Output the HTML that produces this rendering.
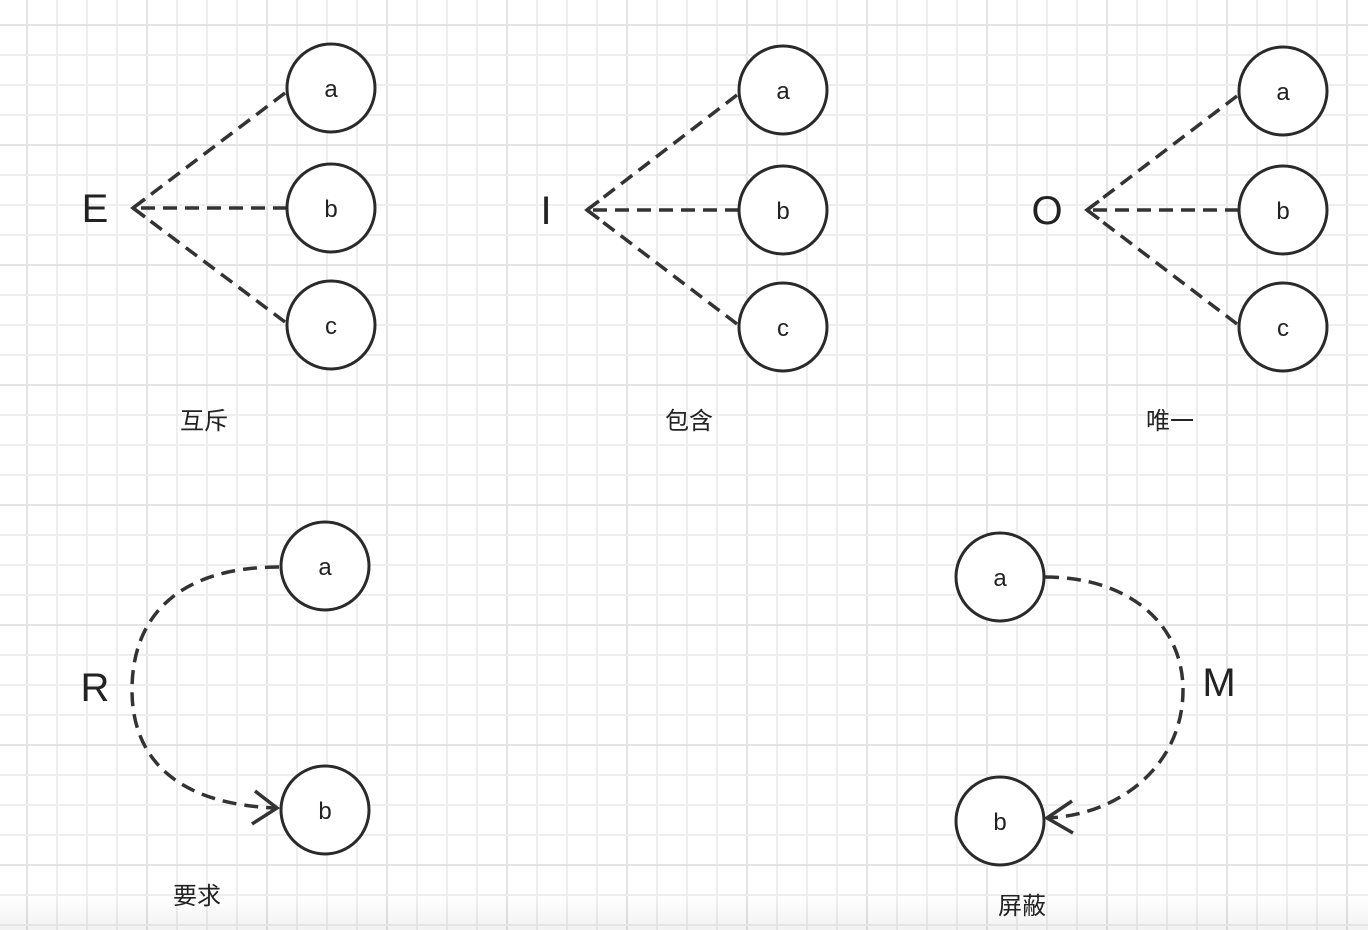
<!DOCTYPE html>
<html><head><meta charset="utf-8">
<style>
html,body{margin:0;padding:0;background:#fff;}
svg{display:block;}
.t{font-family:"Liberation Sans","Noto Sans CJK SC",sans-serif;fill:#222;}
.c{fill:#fff;stroke:#2a2a2a;stroke-width:3;}
.d{fill:none;stroke:#333;stroke-width:3.5;stroke-dasharray:14 8;}
.ar{fill:none;stroke:#333;stroke-width:3.5;}
</style></head>
<body>
<svg id="s" width="1368" height="930" viewBox="0 0 1368 930">
<defs>
<linearGradient id="fade" x1="0" y1="0" x2="0" y2="1">
<stop offset="0" stop-color="#000" stop-opacity="0"/>
<stop offset="1" stop-color="#000" stop-opacity="0.05"/>
</linearGradient>
</defs>
<rect width="1368" height="930" fill="#fff"/>
<g id="grid"></g>
<rect y="895" width="1368" height="35" fill="url(#fade)"/>

<g>
<path class="d" d="M285 93L133 208M287 208H133M285 322L133 208"/>
<path class="ar" d="M145 199L133 208L145 217"/>
<circle class="c" cx="331" cy="88" r="44"/>
<circle class="c" cx="331" cy="208" r="44"/>
<circle class="c" cx="331" cy="325" r="44"/>
<text class="t" x="331" y="97" font-size="24" text-anchor="middle">a</text>
<text class="t" x="331" y="217" font-size="24" text-anchor="middle">b</text>
<text class="t" x="331" y="334" font-size="24" text-anchor="middle">c</text>
<text class="t" x="95" y="222" font-size="40" text-anchor="middle">E</text>
<text class="t" x="204" y="429" font-size="24" text-anchor="middle">互斥</text>
</g>

<g>
<path class="d" d="M737 95L587 210M739 210H587M737 324L587 210"/>
<path class="ar" d="M599 201L587 210L599 219"/>
<circle class="c" cx="783" cy="90" r="44"/>
<circle class="c" cx="783" cy="210" r="44"/>
<circle class="c" cx="783" cy="327" r="44"/>
<text class="t" x="783" y="99" font-size="24" text-anchor="middle">a</text>
<text class="t" x="783" y="219" font-size="24" text-anchor="middle">b</text>
<text class="t" x="783" y="336" font-size="24" text-anchor="middle">c</text>
<text class="t" x="546" y="224" font-size="40" text-anchor="middle">I</text>
<text class="t" x="689" y="429" font-size="24" text-anchor="middle">包含</text>
</g>

<g>
<path class="d" d="M1237 96L1087 210M1239 210H1087M1237 324L1087 210"/>
<path class="ar" d="M1099 201L1087 210L1099 219"/>
<circle class="c" cx="1283" cy="91" r="44"/>
<circle class="c" cx="1283" cy="210" r="44"/>
<circle class="c" cx="1283" cy="327" r="44"/>
<text class="t" x="1283" y="100" font-size="24" text-anchor="middle">a</text>
<text class="t" x="1283" y="219" font-size="24" text-anchor="middle">b</text>
<text class="t" x="1283" y="336" font-size="24" text-anchor="middle">c</text>
<text class="t" x="1047" y="224" font-size="40" text-anchor="middle">O</text>
<text class="t" x="1170" y="429" font-size="24" text-anchor="middle">唯一</text>
</g>

<g>
<path class="d" d="M279 567C180 567 132 615 132 690C132 765 185 805 277 808"/>
<path class="ar" d="M255 791L277 808L252 824"/>
<circle class="c" cx="325" cy="566" r="44"/>
<circle class="c" cx="325" cy="810" r="44"/>
<text class="t" x="325" y="575" font-size="24" text-anchor="middle">a</text>
<text class="t" x="325" y="819" font-size="24" text-anchor="middle">b</text>
<text class="t" x="95" y="701" font-size="40" text-anchor="middle">R</text>
<text class="t" x="197" y="904" font-size="24" text-anchor="middle">要求</text>
</g>

<g>
<path class="d" d="M1045 577C1130 577 1183 625 1183 690C1183 765 1120 815 1047 818"/>
<path class="ar" d="M1072 801L1047 818L1073 833"/>
<circle class="c" cx="1000" cy="577" r="44"/>
<circle class="c" cx="1000" cy="821" r="44"/>
<text class="t" x="1000" y="586" font-size="24" text-anchor="middle">a</text>
<text class="t" x="1000" y="830" font-size="24" text-anchor="middle">b</text>
<text class="t" x="1219" y="696" font-size="40" text-anchor="middle">M</text>
<text class="t" x="1022" y="914" font-size="24" text-anchor="middle">屏蔽</text>
</g>
</svg>
<script>
var g=document.getElementById('grid');var NS='http://www.w3.org/2000/svg';
function ln(x1,y1,x2,y2,major){var l=document.createElementNS(NS,'line');


l.setAttribute('x1',x1);l.setAttribute('y1',y1);l.setAttribute('x2',x2);l.setAttribute('y2',y2);
l.setAttribute('stroke',major?'#e4e4e4':'#eeeeee');l.setAttribute('stroke-width',2);g.appendChild(l);}
for(var i=0;i<46;i++){var x=27+30*(i-0);if(x<=1368)ln(x,0,x,930,(i%4)==0);}
for(var j=0;j<32;j++){var y=25+30*j;if(y<=930)ln(0,y,1368,y,(j%4)==0);}
</script>
</body></html>
